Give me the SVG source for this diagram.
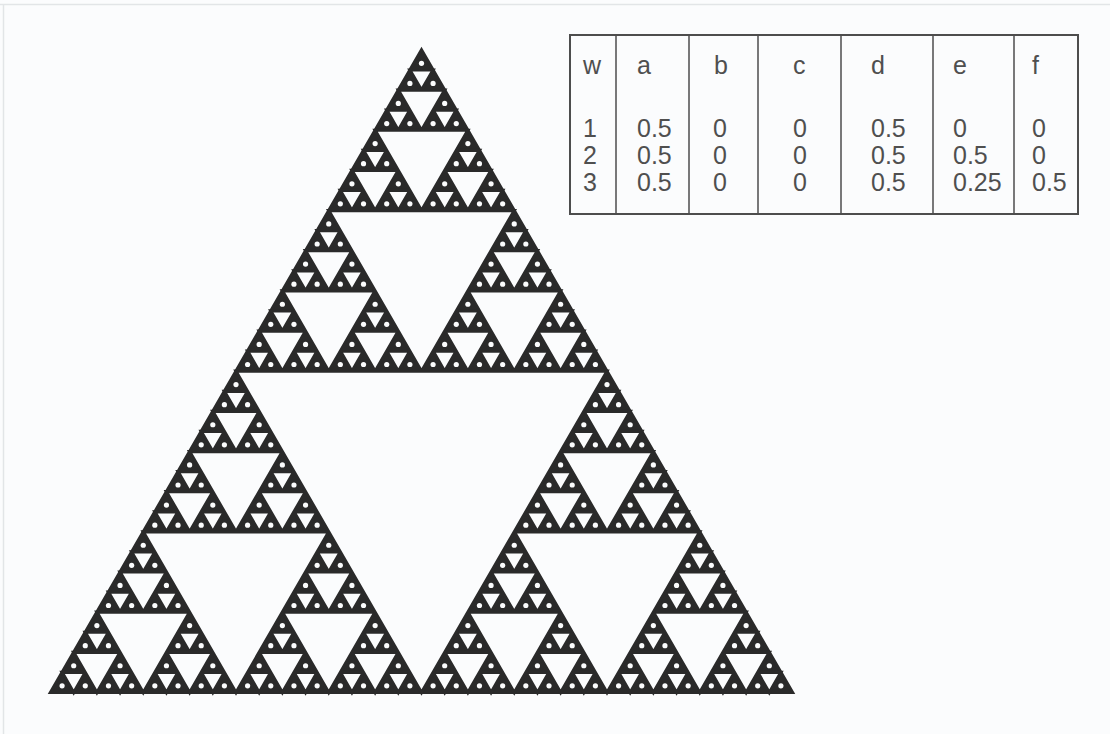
<svg xmlns="http://www.w3.org/2000/svg" width="1110" height="734" viewBox="0 0 1110 734">
<style>
.ink{fill:#2a2a2a;stroke:#2a2a2a;stroke-linejoin:miter}
.hole{fill:#fbfcfd;stroke:#2a2a2a;stroke-linejoin:miter}
.dot{fill:#fbfcfd}
.grid{fill:none;stroke:#4d4d4d}
.t{font-family:"Liberation Sans",Arial,sans-serif;font-size:25px;fill:#4f4f4f}
</style>
<defs>
<g id="g5"><circle cx="0.5" cy="-0.288675" r="0.112" class="dot"/></g>
<g id="g4"><use href="#g5" transform="scale(0.5)"/><use href="#g5" transform="translate(0.5,0) scale(0.5)"/><use href="#g5" transform="translate(0.25,-0.4330127) scale(0.5)"/><polygon class="hole" stroke-width="0.069189" points="0.25,-0.4330127 0.75,-0.4330127 0.5,0"/></g>
<g id="g3"><use href="#g4" transform="scale(0.5)"/><use href="#g4" transform="translate(0.5,0) scale(0.5)"/><use href="#g4" transform="translate(0.25,-0.4330127) scale(0.5)"/><polygon class="hole" stroke-width="0.034595" points="0.25,-0.4330127 0.75,-0.4330127 0.5,0"/></g>
<g id="g2"><use href="#g3" transform="scale(0.5)"/><use href="#g3" transform="translate(0.5,0) scale(0.5)"/><use href="#g3" transform="translate(0.25,-0.4330127) scale(0.5)"/><polygon class="hole" stroke-width="0.017297" points="0.25,-0.4330127 0.75,-0.4330127 0.5,0"/></g>
<g id="g1"><use href="#g2" transform="scale(0.5)"/><use href="#g2" transform="translate(0.5,0) scale(0.5)"/><use href="#g2" transform="translate(0.25,-0.4330127) scale(0.5)"/><polygon class="hole" stroke-width="0.0086486" points="0.25,-0.4330127 0.75,-0.4330127 0.5,0"/></g>
<g id="g0"><use href="#g1" transform="scale(0.5)"/><use href="#g1" transform="translate(0.5,0) scale(0.5)"/><use href="#g1" transform="translate(0.25,-0.4330127) scale(0.5)"/><polygon class="hole" stroke-width="0.0043243" points="0.25,-0.4330127 0.75,-0.4330127 0.5,0"/></g>
</defs>
<rect id="background" x="0" y="0" width="1110" height="734" fill="#fbfcfd"/>
<g id="frame" stroke="#e2e5e7" stroke-width="1.5">
<line x1="0" y1="4.5" x2="1110" y2="4.5"/>
<line x1="3.5" y1="4" x2="3.5" y2="734"/>
</g>
<g id="sierpinski" transform="translate(50.5,692.5) scale(742)">
<polygon class="ink" stroke-width="0.0043243" points="0,0 1,0 0.5,-0.8660254"/>
<use href="#g0"/>
</g>
<g id="table">
<rect x="570" y="35" width="508" height="179" class="grid" stroke-width="2"/>
<g class="grid" stroke-width="1.5">
<line x1="616" y1="35" x2="616" y2="214"/>
<line x1="689" y1="35" x2="689" y2="214"/>
<line x1="758" y1="35" x2="758" y2="214"/>
<line x1="841" y1="35" x2="841" y2="214"/>
<line x1="933" y1="35" x2="933" y2="214"/>
<line x1="1014" y1="35" x2="1014" y2="214"/>
</g>
<g class="t">
<text x="583" y="74">w</text><text x="637" y="74">a</text><text x="714" y="74">b</text><text x="793" y="74">c</text><text x="871" y="74">d</text><text x="953" y="74">e</text><text x="1032" y="74">f</text>
<text x="583" y="137">1</text><text x="637" y="137">0.5</text><text x="713" y="137">0</text><text x="793" y="137">0</text><text x="871" y="137">0.5</text><text x="953" y="137">0</text><text x="1032" y="137">0</text>
<text x="583" y="164">2</text><text x="637" y="164">0.5</text><text x="713" y="164">0</text><text x="793" y="164">0</text><text x="871" y="164">0.5</text><text x="953" y="164">0.5</text><text x="1032" y="164">0</text>
<text x="583" y="191">3</text><text x="637" y="191">0.5</text><text x="713" y="191">0</text><text x="793" y="191">0</text><text x="871" y="191">0.5</text><text x="953" y="191">0.25</text><text x="1032" y="191">0.5</text>
</g>
</g>
</svg>
